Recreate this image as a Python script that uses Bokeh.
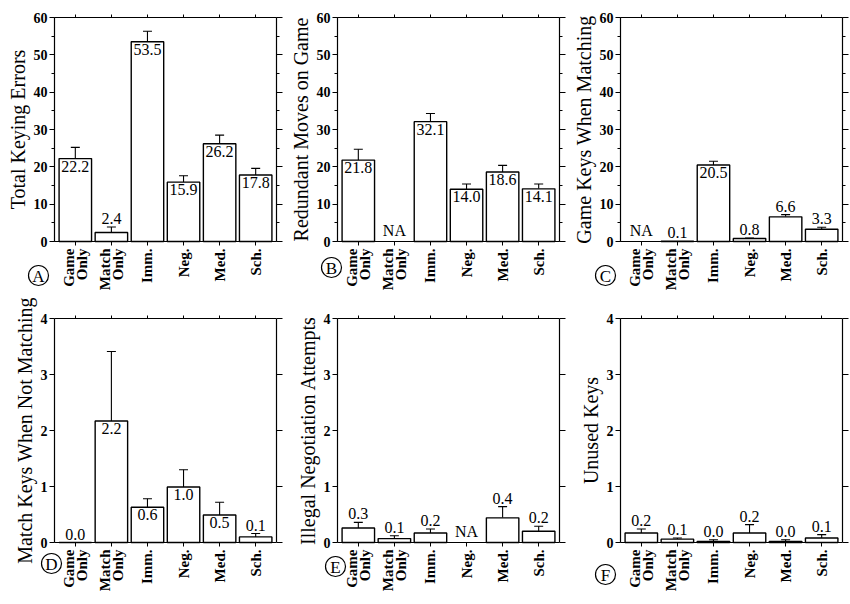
from math import pi
from bokeh.plotting import figure
from bokeh.models import (Range1d, LinearAxis, ColumnDataSource, Whisker, TeeHead,
                          SingleIntervalTicker, FixedTicker)
from bokeh.layouts import column, row
from bokeh.core.properties import value
from bokeh.embed import file_html
from bokeh.resources import INLINE

# ---------------- data ----------------
categories = ["Game Only", "Match Only", "Imm.", "Neg.", "Med.", "Sch."]
category_lines = [["Game", "Only"], ["Match", "Only"], ["Imm."], ["Neg."], ["Med."], ["Sch."]]

total_keying = [22.2, 2.4, 53.5, 15.9, 26.2, 17.8]
total_keying_se = [3.0, 1.5, 2.8, 1.7, 2.3, 1.8]

redundant_moves = [21.8, None, 32.1, 14.0, 18.6, 14.1]
redundant_moves_se = [2.9, None, 2.2, 1.4, 1.8, 1.3]

game_keys = [None, 0.1, 20.5, 0.8, 6.6, 3.3]
game_keys_se = [None, 0.0, 1.0, 0.15, 0.6, 0.5]

match_keys = [0.0, 2.17, 0.63, 0.99, 0.49, 0.10]
match_keys_se = [0.0, 1.24, 0.15, 0.31, 0.23, 0.06]

illegal_neg = [0.26, 0.07, 0.17, None, 0.44, 0.20]
illegal_neg_se = [0.10, 0.05, 0.07, None, 0.20, 0.09]

unused_keys = [0.17, 0.06, 0.02, 0.17, 0.02, 0.08]
unused_keys_se = [0.07, 0.02, 0.03, 0.15, 0.03, 0.06]

y_labels = ["Total Keying Errors", "Redundant Moves on Game", "Game Keys When Matching",
            "Match Keys When Not Matching", "Illegal Negotiation Attempts", "Unused Keys"]
panel_letters = ["A", "B", "C", "D", "E", "F"]

SERIF = "Liberation Serif"
PAD = 0.077                      # padding of the box beyond the outer categories (category units)
NCAT = len(categories)
cat_x = [i + 0.5 for i in range(NCAT)]   # category slot centres on the x scale


def make_panel(vals, ses, ylabel, letter, ymax, interval, n_minor,
               area_w, area_h, left, top, ext, br, letter_off):
    cat_px = area_w / (NCAT + 2 * PAD)
    ypx = ymax / area_h                       # data units per pixel (vertical)
    x0, x1 = -PAD, NCAT + PAD                 # box edges on the x scale
    p = figure(x_range=Range1d(x0 - left / cat_px, x1),
               y_range=Range1d(-ext * ypx, ymax + top * ypx),
               frame_width=left + area_w, frame_height=top + area_h + ext,
               min_border_left=0, min_border_right=br, min_border_top=0, min_border_bottom=0,
               toolbar_location=None, output_backend="svg")
    p.xgrid.visible = False
    p.ygrid.visible = False
    p.outline_line_color = None

    # left axis, fixed at the left edge of the box
    ya = p.yaxis[0]
    ya.fixed_location = x0
    ya.bounds = (0, ymax)
    ya.ticker = SingleIntervalTicker(interval=interval, num_minor_ticks=n_minor)
    ya.axis_label = ylabel
    ya.axis_label_text_font = SERIF
    ya.axis_label_text_font_size = "20px"
    ya.axis_label_text_font_style = "normal"
    ya.axis_label_text_color = "black"
    ya.axis_label_standoff = 2
    ya.major_label_text_font = SERIF
    ya.major_label_text_font_size = "14px"
    ya.major_label_text_font_style = "bold"
    ya.major_label_text_color = "black"
    ya.major_label_standoff = 2
    ya.major_tick_out = 5
    ya.major_tick_in = 0
    ya.minor_tick_out = 3
    ya.minor_tick_in = 0
    ya.axis_line_width = 1.2

    # bottom axis at y = 0: ticks at the categories, labels drawn as text below
    xa = p.xaxis[0]
    xa.fixed_location = 0
    xa.bounds = (x0, x1)
    xa.ticker = FixedTicker(ticks=cat_x, minor_ticks=[])
    xa.major_label_text_font_size = "1px"
    xa.major_label_text_color = None
    xa.major_label_standoff = 0
    xa.major_tick_out = 4
    xa.major_tick_in = 0
    xa.minor_tick_out = 0
    xa.axis_line_width = 1.2

    # top axis at y = ymax (ticks only)
    ta = LinearAxis(fixed_location=ymax, bounds=(x0, x1),
                    ticker=FixedTicker(ticks=cat_x, minor_ticks=[]),
                    major_label_text_font_size="1px", major_label_text_color=None,
                    major_label_standoff=0, major_tick_out=3, major_tick_in=0,
                    minor_tick_out=0, axis_line_width=1.2)
    p.add_layout(ta, "above")

    # right axis (ticks only)
    ra = LinearAxis(bounds=(0, ymax),
                    ticker=SingleIntervalTicker(interval=interval, num_minor_ticks=n_minor),
                    major_label_text_font_size="1px", major_label_text_color=None,
                    major_label_standoff=0,
                    major_tick_out=6, major_tick_in=0, minor_tick_out=3, minor_tick_in=0,
                    axis_line_width=1.2)
    p.add_layout(ra, "right")

    # bars
    bx = [x for x, v in zip(cat_x, vals) if v is not None]
    bv = [v for v in vals if v is not None]
    p.vbar(x=bx, top=bv, width=0.9, fill_color="white", line_color="black", line_width=1.4)

    # error bars (upper only)
    ex, elo, ehi = [], [], []
    for x, v, s in zip(cat_x, vals, ses):
        if v is not None and s:
            ex.append(x); elo.append(v); ehi.append(v + s)
    esrc = ColumnDataSource(dict(x=ex, lo=elo, hi=ehi))
    p.add_layout(Whisker(base="x", lower="lo", upper="hi", source=esrc, dimension="height",
                         line_color="black", line_width=1.1, lower_head=None,
                         upper_head=TeeHead(size=9, line_color="black", line_width=1.1)))

    # value labels
    inside = dict(x=[], y=[], text=[])
    above = dict(x=[], y=[], text=[])
    for x, v, s in zip(cat_x, vals, ses):
        if v is None:
            above["x"].append(x); above["y"].append(0); above["text"].append("NA")
        elif v / ymax > 0.115:
            inside["x"].append(x); inside["y"].append(v); inside["text"].append(f"{v:.1f}")
        else:
            above["x"].append(x); above["y"].append(v + (s or 0)); above["text"].append(f"{v:.1f}")
    p.text(x="x", y="y", text="text", source=ColumnDataSource(inside), text_align="center",
           text_baseline="top", y_offset=2, text_font=value(SERIF), text_font_size="16px",
           text_color="black")
    p.text(x="x", y="y", text="text", source=ColumnDataSource(above), text_align="center",
           text_baseline="bottom", y_offset=-3, text_font=value(SERIF), text_font_size="16px",
           text_color="black")

    # category labels, rotated, one row per line
    cl = dict(x=[], y=[], text=[], dx=[])
    for x, lines in zip(cat_x, category_lines):
        n = len(lines)
        for j, line in enumerate(lines):
            cl["x"].append(x); cl["y"].append(0); cl["text"].append(line)
            cl["dx"].append((j - (n - 1) / 2) * 13)
    p.text(x="x", y="y", text="text", x_offset="dx", source=ColumnDataSource(cl),
           angle=pi / 2, text_align="right", text_baseline="middle", y_offset=7,
           text_font=value(SERIF), text_font_size="15px", text_font_style="bold",
           text_color="black")

    # circled panel letter
    dx, dy = letter_off
    lx, ly = x0 + dx / cat_px, -dy * ypx
    p.scatter(x=[lx], y=[ly], marker="circle", size=20, fill_color="white",
              line_color="black", line_width=1.2)
    p.text(x=[lx], y=[ly], text=[letter], text_align="center", text_baseline="middle",
           text_font=value(SERIF), text_font_size="17px", text_color="black", y_offset=1)
    return p


AREA_W, AREA_H, LEFT, RIGHT = 222, 224, 54, 7
row_specs = [dict(top=17, ext=56), dict(top=21, ext=58)]
letter_offsets = [(-16, 34), (-6, 26), (-15, 34), (-3, 21), (-2, 24), (-15, 32)]

datasets = [(total_keying, total_keying_se, 60, 10, 2),
            (redundant_moves, redundant_moves_se, 60, 10, 2),
            (game_keys, game_keys_se, 60, 10, 2),
            (match_keys, match_keys_se, 4, 1, 0),
            (illegal_neg, illegal_neg_se, 4, 1, 0),
            (unused_keys, unused_keys_se, 4, 1, 0)]

panels = []
for i, (vals, ses, ymax, interval, nminor) in enumerate(datasets):
    rs = row_specs[i // 3]
    panels.append(make_panel(vals, ses, y_labels[i], panel_letters[i], ymax, interval, nminor,
                             AREA_W, AREA_H, LEFT, rs["top"], rs["ext"], RIGHT,
                             letter_offsets[i]))

layout = column(row(*panels[:3]), row(*panels[3:]))
open("out.html", "w").write(file_html(layout, INLINE))
